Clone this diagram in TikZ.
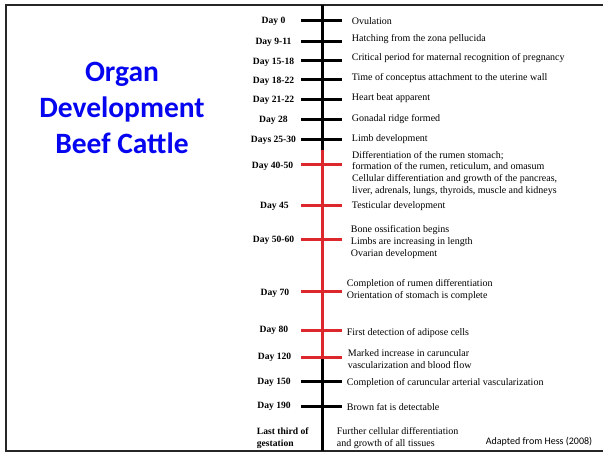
\documentclass[tikz,border=0pt]{standalone}
\usepackage{fontspec}
\setmainfont{Liberation Serif}
\newfontfamily\calibrifont{Carlito}
\definecolor{axisred}{RGB}{220,40,45}
\definecolor{titleblue}{RGB}{5,5,240}
\tikzset{
  daylabel/.style={font=\fontsize{9.6}{11}\selectfont\bfseries, inner sep=0pt,
    text height=6.6pt, text depth=0pt},
  event/.style={font=\fontsize{10}{11.7}\selectfont, anchor=west, inner sep=0pt,
    text height=6.8pt, text depth=0pt},
  eventblock/.style={font=\fontsize{10}{11.7}\selectfont, anchor=west, inner sep=0pt,
    align=left},
  tick/.style={line width=3pt},
}
\begin{document}
\begin{tikzpicture}[x=1pt, y=-1pt]
  \useasboundingbox (0,0) rectangle (603,452);
  % frame, open on the right
  \coordinate (ftr) at (603,4.7);
  \coordinate (ftl) at (5.5,4.7);
  \coordinate (fbl) at (5.5,451);
  \coordinate (fbr) at (603,451);
  \draw[line width=2pt, black!85] (ftr) -- (ftl) -- (fbl) -- (fbr);

  % title
  \node[font=\fontsize{29.5}{36}\selectfont\calibrifont\bfseries, text=titleblue,
    align=center, inner sep=0pt] (title) at (122,108) {Organ\\Development\\Beef Cattle};

  % time axis
  \coordinate (top) at (322.7,4.7);
  \coordinate (redtop) at (322.7,149.5);
  \coordinate (redbot) at (322.7,359);
  \coordinate (bot) at (322.7,451);
  \draw[line width=3.2pt] (top) -- (redtop);
  \draw[line width=3.2pt, axisred] (redtop) -- (redbot);
  \draw[line width=3.2pt] (redbot) -- (bot);

  % ticks
  \foreach \ty/\tc [count=\k] in {20.7/black, 41.7/black, 61/black, 80/black,
      99.3/black, 119.3/black, 139.3/black, 164.3/axisred, 205.7/axisred,
      239/axisred, 291.7/axisred, 330.7/axisred, 357/axisred, 381/black, 406.7/black}{
    \coordinate (tl\k) at (301,\ty);
    \coordinate (tr\k) at (342,\ty);
    \draw[tick, \tc] (tl\k) -- (tr\k);
  }

  % days
  \node[daylabel] (d0) at (273.5,20.7) {Day 0};
  \node[daylabel] (d9) at (273.5,41.7) {Day 9-11};
  \node[daylabel] (d15) at (273.5,61.7) {Day 15-18};
  \node[daylabel] (d18) at (273.5,80) {Day 18-22};
  \node[daylabel] (d21) at (273.5,99.3) {Day 21-22};
  \node[daylabel] (d28) at (273.5,119.3) {Day 28};
  \node[daylabel] (d25) at (273.5,139.3) {Days 25-30};
  \node[daylabel] (d40) at (272.5,165) {Day 40-50};
  \node[daylabel] (d45) at (274.5,205) {Day 45};
  \node[daylabel] (d50) at (273.5,239) {Day 50-60};
  \node[daylabel] (d70) at (275,291.7) {Day 70};
  \node[daylabel] (d80) at (274,329.3) {Day 80};
  \node[daylabel] (d120) at (274.5,356) {Day 120};
  \node[daylabel] (d150) at (274,381) {Day 150};
  \node[daylabel] (d190) at (274,405) {Day 190};
  \node[font=\fontsize{9.6}{11.7}\selectfont\bfseries, inner sep=0pt, anchor=west,
    align=left] (dlast) at (256.7,438.2) {Last third of\\gestation};

  % events
  \node[event] (e0) at (351.7,20.7) {Ovulation};
  \node[event] (e9) at (351.7,37.7) {Hatching from the zona pellucida};
  \node[event] (e15) at (351.7,57.3) {Critical period for maternal recognition of pregnancy};
  \node[event] (e18) at (351.7,76.7) {Time of conceptus attachment to the uterine wall};
  \node[event] (e21) at (351.7,97.3) {Heart beat apparent};
  \node[event] (e28) at (351.7,118) {Gonadal ridge formed};
  \node[event] (e25) at (351.7,138) {Limb development};
  \node[eventblock] (e40) at (352,173.3) {Differentiation of the rumen stomach;\\
    formation of the rumen, reticulum, and omasum\\
    Cellular differentiation and growth of the pancreas,\\
    liver, adrenals, lungs, thyroids, muscle and kidneys};
  \node[event] (e45) at (351.7,205) {Testicular development};
  \node[eventblock] (e50) at (350.7,242.2) {Bone ossification begins\\
    Limbs are increasing in length\\Ovarian development};
  \node[eventblock] (e70) at (346.7,289.8) {Completion of rumen differentiation\\
    Orientation of stomach is complete};
  \node[event] (e80) at (346.7,332.3) {First detection of adipose cells};
  \node[eventblock] (e120) at (347.7,359) {Marked increase in caruncular\\
    vascularization and blood flow};
  \node[event] (e150) at (346.7,381.7) {Completion of caruncular arterial vascularization};
  \node[event] (e190) at (346.7,406.7) {Brown fat is detectable};
  \node[eventblock] (elast) at (336.7,438.2) {Further cellular differentiation\\
    and growth of all tissues};

  % source
  \node[font=\fontsize{10}{12}\selectfont\calibrifont, anchor=west, inner sep=0pt]
    (source) at (485.7,442) {Adapted from Hess (2008)};
\end{tikzpicture}
\end{document}
